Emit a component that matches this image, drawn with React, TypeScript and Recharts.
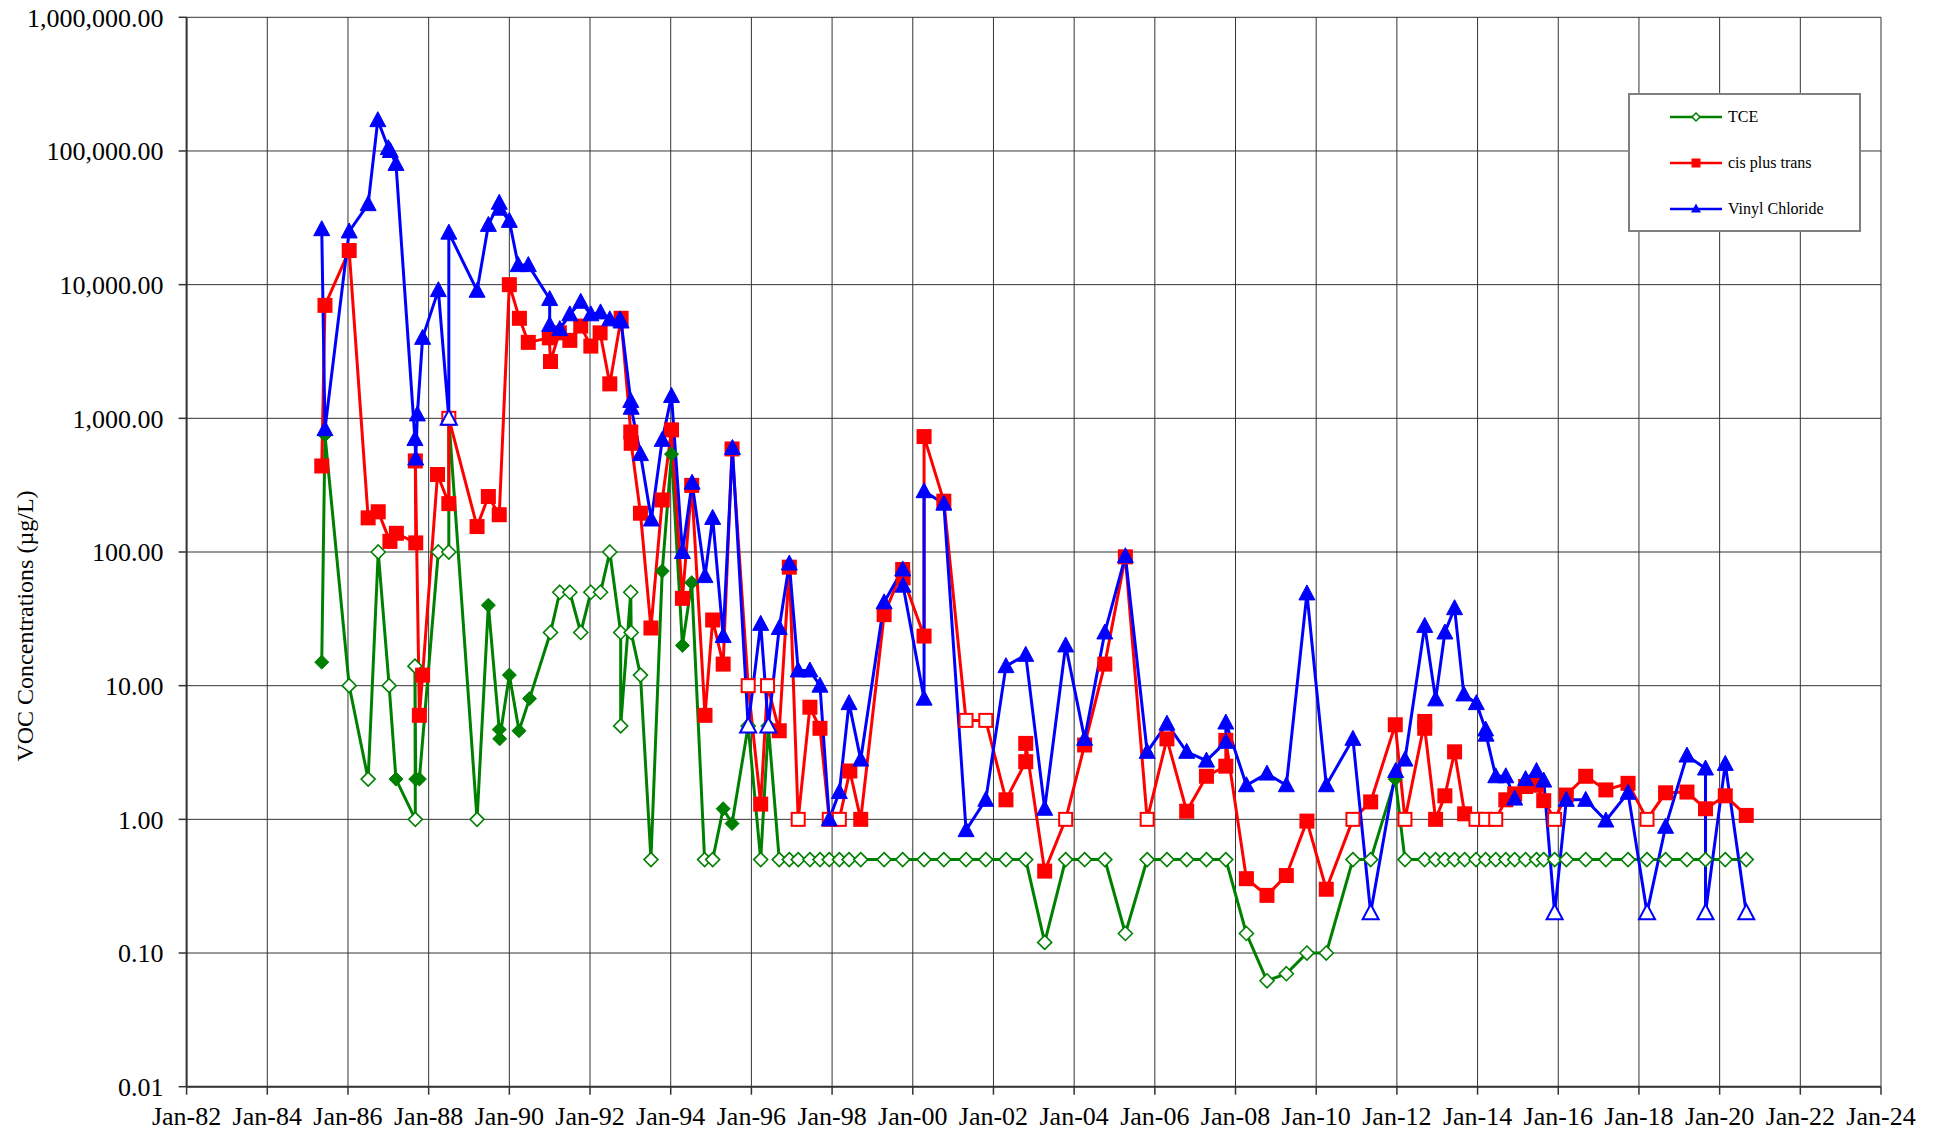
import React from "react";
import { LineChart, Line, XAxis, YAxis, CartesianGrid } from "recharts";

// [decimal year, concentration µg/L, 1 = hollow marker (non-detect)]
type Sample = [number, number, number?];

const TCE: Sample[] = [
  [1985.35, 15], [1985.43, 750], [1986.03, 10, 1], [1986.5, 2, 1], [1986.75, 100, 1],
  [1987.02, 10, 1], [1987.19, 2], [1987.67, 1, 1], [1987.66, 14, 1], [1987.68, 2],
  [1987.77, 2], [1988.24, 100, 1], [1988.5, 100, 1], [1988.5, 1000], [1989.2, 1, 1],
  [1989.48, 40], [1989.75, 4.7], [1989.76, 4.0], [1990.0, 12], [1990.24, 4.6],
  [1990.5, 8], [1991.02, 25, 1], [1991.25, 50, 1], [1991.5, 50, 1], [1991.77, 25, 1],
  [1992.02, 50, 1], [1992.26, 50, 1], [1992.49, 100, 1], [1992.76, 25, 1], [1992.76, 5, 1],
  [1993.01, 50, 1], [1993.02, 25, 1], [1993.25, 12, 1], [1993.51, 0.5, 1], [1993.79, 72],
  [1994.02, 540], [1994.29, 20], [1994.52, 59], [1994.84, 0.5, 1], [1995.04, 0.5, 1],
  [1995.3, 1.2], [1995.52, 0.93], [1995.92, 5, 1], [1996.23, 0.5, 1], [1996.42, 5, 1],
  [1996.69, 0.5, 1], [1996.94, 0.5, 1], [1997.16, 0.5, 1], [1997.45, 0.5, 1], [1997.7, 0.5, 1],
  [1997.93, 0.5, 1], [1998.18, 0.5, 1], [1998.42, 0.5, 1], [1998.71, 0.5, 1], [1999.29, 0.5, 1],
  [1999.75, 0.5, 1], [2000.28, 0.5, 1], [2000.77, 0.5, 1], [2001.32, 0.5, 1], [2001.81, 0.5, 1],
  [2002.31, 0.5, 1], [2002.8, 0.5, 1], [2003.27, 0.12, 1], [2003.79, 0.5, 1], [2004.26, 0.5, 1],
  [2004.76, 0.5, 1], [2005.27, 0.14, 1], [2005.81, 0.5, 1], [2006.3, 0.5, 1], [2006.79, 0.5, 1],
  [2007.28, 0.5, 1], [2007.76, 0.5, 1], [2008.27, 0.14, 1], [2008.78, 0.062, 1], [2009.26, 0.07, 1],
  [2009.77, 0.1, 1], [2010.25, 0.1, 1], [2010.91, 0.5, 1], [2011.35, 0.5, 1], [2011.96, 2.0],
  [2012.2, 0.5, 1], [2012.69, 0.5, 1], [2012.96, 0.5, 1], [2013.19, 0.5, 1], [2013.43, 0.5, 1],
  [2013.68, 0.5, 1], [2013.96, 0.5, 1], [2014.2, 0.5, 1], [2014.45, 0.5, 1], [2014.7, 0.5, 1],
  [2014.92, 0.5, 1], [2015.19, 0.5, 1], [2015.46, 0.5, 1], [2015.64, 0.5, 1], [2015.91, 0.5, 1],
  [2016.2, 0.5, 1], [2016.68, 0.5, 1], [2017.18, 0.5, 1], [2017.73, 0.5, 1], [2018.2, 0.5, 1],
  [2018.66, 0.5, 1], [2019.19, 0.5, 1], [2019.65, 0.5, 1], [2020.14, 0.5, 1], [2020.66, 0.5, 1],
];

const CIS_TRANS: Sample[] = [
  [1985.35, 440], [1985.43, 7000], [1986.03, 18000], [1986.5, 180], [1986.75, 200],
  [1987.04, 120], [1987.2, 138], [1987.68, 117], [1987.67, 480], [1987.77, 6],
  [1987.85, 12], [1988.22, 380], [1988.5, 230], [1988.5, 1000, 1], [1989.2, 155],
  [1989.48, 260], [1989.75, 190], [1990.0, 10000], [1990.25, 5600], [1990.47, 3700],
  [1990.99, 4000], [1991.02, 2660], [1991.24, 4360], [1991.5, 3830], [1991.77, 4900],
  [1992.02, 3470], [1992.25, 4360], [1992.49, 1810], [1992.77, 5600], [1993.01, 790],
  [1993.02, 650], [1993.25, 195], [1993.51, 27], [1993.79, 245], [1994.02, 820],
  [1994.29, 45], [1994.52, 315], [1994.85, 6], [1995.04, 31], [1995.3, 14.5],
  [1995.52, 590], [1995.92, 10, 1], [1996.23, 1.3], [1996.4, 10, 1], [1996.69, 4.6],
  [1996.94, 77], [1997.16, 1, 1], [1997.45, 6.9], [1997.7, 4.8], [1997.93, 1, 1],
  [1998.18, 1, 1], [1998.44, 2.3], [1998.71, 1.0], [1999.29, 34], [1999.75, 74],
  [1999.76, 64], [2000.28, 23.5], [2000.28, 730], [2000.77, 240], [2001.32, 5.5, 1],
  [2001.81, 5.5, 1], [2002.31, 1.4], [2002.8, 2.7], [2002.8, 3.7], [2003.27, 0.41],
  [2003.79, 1, 1], [2004.26, 3.6], [2004.76, 14.5], [2005.27, 92], [2005.81, 1, 1],
  [2006.3, 4.0], [2006.79, 1.15], [2007.28, 2.1], [2007.76, 2.5], [2007.76, 3.9],
  [2008.27, 0.36], [2008.78, 0.27], [2009.26, 0.38], [2009.77, 0.97], [2010.25, 0.3],
  [2010.91, 1, 1], [2011.35, 1.35], [2011.96, 5.1], [2012.2, 1, 1], [2012.69, 5.4],
  [2012.69, 4.8], [2012.96, 1.0], [2013.19, 1.5], [2013.43, 3.2], [2013.68, 1.1],
  [2013.96, 1, 1], [2014.2, 1, 1], [2014.45, 1, 1], [2014.7, 1.4], [2014.92, 1.55],
  [2015.19, 1.76], [2015.46, 1.8], [2015.64, 1.38], [2015.91, 1, 1], [2016.2, 1.52],
  [2016.68, 2.1], [2017.18, 1.66], [2017.73, 1.86], [2018.2, 1, 1], [2018.66, 1.58],
  [2019.19, 1.6], [2019.65, 1.2], [2020.14, 1.5], [2020.66, 1.07],
];

const VINYL_CHLORIDE: Sample[] = [
  [1985.35, 26000], [1985.43, 830], [1986.03, 25000], [1986.5, 40000], [1986.74, 170000],
  [1987.0, 105000], [1987.05, 100000], [1987.19, 80000], [1987.66, 700], [1987.68, 500],
  [1987.72, 1070], [1987.85, 4000], [1988.24, 9100], [1988.5, 1000, 1], [1988.5, 24500],
  [1989.2, 9000], [1989.48, 28000], [1989.75, 41000], [1989.76, 37000], [1990.0, 30000],
  [1990.22, 14000], [1990.47, 14000], [1991.0, 7800], [1991.0, 5000], [1991.25, 4650],
  [1991.5, 6000], [1991.77, 7450], [1992.02, 6000], [1992.26, 6200], [1992.49, 5500],
  [1992.74, 5500], [1992.77, 5300], [1993.01, 1350], [1993.02, 1200], [1993.25, 540],
  [1993.52, 175], [1993.79, 690], [1994.02, 1470], [1994.29, 100], [1994.53, 330],
  [1994.85, 66], [1995.04, 180], [1995.3, 23.5], [1995.53, 600], [1995.92, 5, 1],
  [1996.23, 29], [1996.42, 5, 1], [1996.69, 27], [1996.94, 82], [1997.16, 13],
  [1997.45, 13], [1997.7, 10], [1997.93, 1.0], [1998.18, 1.6], [1998.42, 7.4],
  [1998.71, 2.8], [1999.29, 42], [1999.75, 74], [1999.76, 56], [2000.28, 8.0],
  [2000.28, 285], [2000.77, 230], [2001.32, 0.83], [2001.81, 1.4], [2002.31, 14],
  [2002.8, 17], [2003.27, 1.2], [2003.79, 20], [2004.26, 4.0], [2004.76, 25],
  [2005.27, 93], [2005.81, 3.2], [2006.3, 5.2], [2006.79, 3.2], [2007.28, 2.75],
  [2007.76, 3.8], [2007.76, 5.3], [2008.27, 1.8], [2008.78, 2.2], [2009.26, 1.8],
  [2009.77, 49], [2010.25, 1.8], [2010.91, 4.0], [2011.35, 0.2, 1], [2011.97, 2.3],
  [2012.2, 2.8], [2012.69, 28], [2012.96, 7.9], [2013.19, 25], [2013.43, 38],
  [2013.66, 8.6], [2013.97, 7.4], [2014.2, 4.7], [2014.21, 4.3], [2014.45, 2.1],
  [2014.7, 2.1], [2014.92, 1.43], [2015.19, 2.0], [2015.46, 2.3], [2015.64, 1.95],
  [2015.91, 0.2, 1], [2016.2, 1.4], [2016.68, 1.4], [2017.18, 0.98], [2017.73, 1.58],
  [2018.2, 0.2, 1], [2018.66, 0.88], [2019.19, 3.0], [2019.65, 2.4], [2019.65, 0.2, 1],
  [2020.14, 2.6], [2020.66, 0.2, 1],
];

const X_TICKS = [
  1982, 1984, 1986, 1988, 1990, 1992, 1994, 1996, 1998, 2000, 2002,
  2004, 2006, 2008, 2010, 2012, 2014, 2016, 2018, 2020, 2022, 2024,
];
const Y_TICKS = [0.01, 0.1, 1, 10, 100, 1000, 10000, 100000, 1000000];

// minor ticks: every quarter on x, 2..9 within each decade on y
const X_MINOR: number[] = [];
for (let t = 1982; t <= 2024; t += 0.25) X_MINOR.push(t);
const Y_MINOR: number[] = [];
for (let d = 0; d < Y_TICKS.length - 1; d++) {
  for (let m = 2; m <= 9; m++) Y_MINOR.push(+(Y_TICKS[d] * m).toPrecision(3));
}

const GREEN = "#008000";
const RED = "#ff0000";
const BLUE = "#0000ff";
const AXIS = "#333333";
const FONT = "'Liberation Serif', 'Times New Roman', serif";

const toRows = (s: Sample[]) => s.map(([t, v, nd]) => ({ t, v, nd: nd === 1 }));

const fmtY = (v: number) =>
  v.toLocaleString("en-US", { minimumFractionDigits: 2, maximumFractionDigits: 2 });
const fmtX = (t: number) => `Jan-${String(Math.round(t) % 100).padStart(2, "0")}`;

const diamondDot = (p: any) => {
  const { cx, cy, payload, index } = p;
  if (cx == null || cy == null) return <g key={`tce-${index}`} />;
  const h = 7;
  return (
    <polygon
      key={`tce-${index}`}
      points={`${cx},${cy - h} ${cx + h},${cy} ${cx},${cy + h} ${cx - h},${cy}`}
      fill={payload.nd ? "#fff" : GREEN}
      stroke={GREEN}
      strokeWidth={payload.nd ? 1.6 : 1}
    />
  );
};

const squareDot = (p: any) => {
  const { cx, cy, payload, index } = p;
  if (cx == null || cy == null) return <g key={`ct-${index}`} />;
  const s = payload.nd ? 13 : 15;
  return (
    <rect
      key={`ct-${index}`}
      x={cx - s / 2}
      y={cy - s / 2}
      width={s}
      height={s}
      fill={payload.nd ? "#fff" : RED}
      stroke={RED}
      strokeWidth={payload.nd ? 2 : 0}
    />
  );
};

const triangleDot = (p: any) => {
  const { cx, cy, payload, index } = p;
  if (cx == null || cy == null) return <g key={`vc-${index}`} />;
  return (
    <polygon
      key={`vc-${index}`}
      points={`${cx},${cy - 8.5} ${cx + 8},${cy + 6.5} ${cx - 8},${cy + 6.5}`}
      fill={payload.nd ? "#fff" : BLUE}
      stroke={BLUE}
      strokeWidth={payload.nd ? 2 : 1}
    />
  );
};

const LegendBox = () => {
  const rows = [
    { label: "TCE", color: GREEN, kind: "d" },
    { label: "cis plus trans", color: RED, kind: "s" },
    { label: "Vinyl Chloride", color: BLUE, kind: "t" },
  ];
  return (
    <div
      style={{
        position: "absolute",
        left: 1628,
        top: 93,
        width: 229,
        height: 135,
        border: "2px solid #7f7f7f",
        background: "#fff",
        fontFamily: FONT,
        fontSize: 16,
      }}
    >
      {rows.map((r, i) => (
        <div
          key={r.label}
          style={{ position: "absolute", left: 38, top: 10 + i * 46, height: 24, display: "flex", alignItems: "center" }}
        >
          <svg width={56} height={24}>
            <line x1={2} y1={12} x2={54} y2={12} stroke={r.color} strokeWidth={2.5} />
            {r.kind === "d" && (
              <polygon points="28,8 32,12 28,16 24,12" fill="#fff" stroke={r.color} strokeWidth={1.5} />
            )}
            {r.kind === "s" && <rect x={23.5} y={7.5} width={9} height={9} fill={r.color} />}
            {r.kind === "t" && <polygon points="28,6.5 33,15.5 23,15.5" fill={r.color} />}
          </svg>
          <span style={{ marginLeft: 4, color: "#000" }}>{r.label}</span>
        </div>
      ))}
    </div>
  );
};

export default function App() {
  const tce = toRows(TCE);
  const cis = toRows(CIS_TRANS);
  const vc = toRows(VINYL_CHLORIDE);

  return (
    <div style={{ position: "absolute", left: 0, top: 0, width: 1942, height: 1133, background: "#fff" }}>
      <LineChart width={1942} height={1133} margin={{ top: 17.3, right: 61, bottom: 0, left: 0 }}>
        <CartesianGrid stroke={AXIS} strokeWidth={1} />
        <XAxis
          dataKey="t"
          type="number"
          domain={[1982, 2024]}
          allowDataOverflow
          ticks={X_TICKS}
          tickFormatter={fmtX}
          height={46.3}
          tickSize={8}
          tickMargin={12}
          interval={0}
          axisLine={{ stroke: AXIS, strokeWidth: 2 }}
          tickLine={{ stroke: AXIS, strokeWidth: 1.5 }}
          tick={{ fill: "#000", fontSize: 26, fontFamily: FONT }}
        />
        <XAxis
          xAxisId="minor"
          dataKey="t"
          type="number"
          domain={[1982, 2024]}
          allowDataOverflow
          ticks={X_MINOR}
          interval={0}
          mirror
          tickSize={5}
          tick={false}
          axisLine={false}
          tickLine={{ stroke: AXIS, strokeWidth: 1 }}
        />
        <YAxis
          scale="log"
          type="number"
          domain={[0.01, 1000000]}
          allowDataOverflow
          ticks={Y_TICKS}
          tickFormatter={fmtY}
          width={186.6}
          tickSize={8}
          tickMargin={15}
          interval={0}
          axisLine={{ stroke: AXIS, strokeWidth: 2 }}
          tickLine={{ stroke: AXIS, strokeWidth: 1.5 }}
          tick={{ fill: "#000", fontSize: 26, fontFamily: FONT }}
        />
        <YAxis
          yAxisId="minor"
          scale="log"
          type="number"
          domain={[0.01, 1000000]}
          allowDataOverflow
          ticks={Y_MINOR}
          interval={0}
          mirror
          tickSize={7}
          tick={false}
          axisLine={false}
          tickLine={{ stroke: AXIS, strokeWidth: 1 }}
        />
        <Line
          data={tce}
          dataKey="v"
          name="TCE"
          stroke={GREEN}
          strokeWidth={3}
          dot={diamondDot}
          activeDot={false}
          isAnimationActive={false}
        />
        <Line
          data={cis}
          dataKey="v"
          name="cis plus trans"
          stroke={RED}
          strokeWidth={3}
          dot={squareDot}
          activeDot={false}
          isAnimationActive={false}
        />
        <Line
          data={vc}
          dataKey="v"
          name="Vinyl Chloride"
          stroke={BLUE}
          strokeWidth={3}
          dot={triangleDot}
          activeDot={false}
          isAnimationActive={false}
        />
      </LineChart>
      <div
        style={{
          position: "absolute",
          left: 25,
          top: 626,
          transform: "translate(-50%, -50%) rotate(-90deg)",
          whiteSpace: "nowrap",
          fontFamily: FONT,
          fontSize: 24,
          color: "#000",
        }}
      >
        VOC Concentrations (µg/L)
      </div>
      <LegendBox />
    </div>
  );
}
